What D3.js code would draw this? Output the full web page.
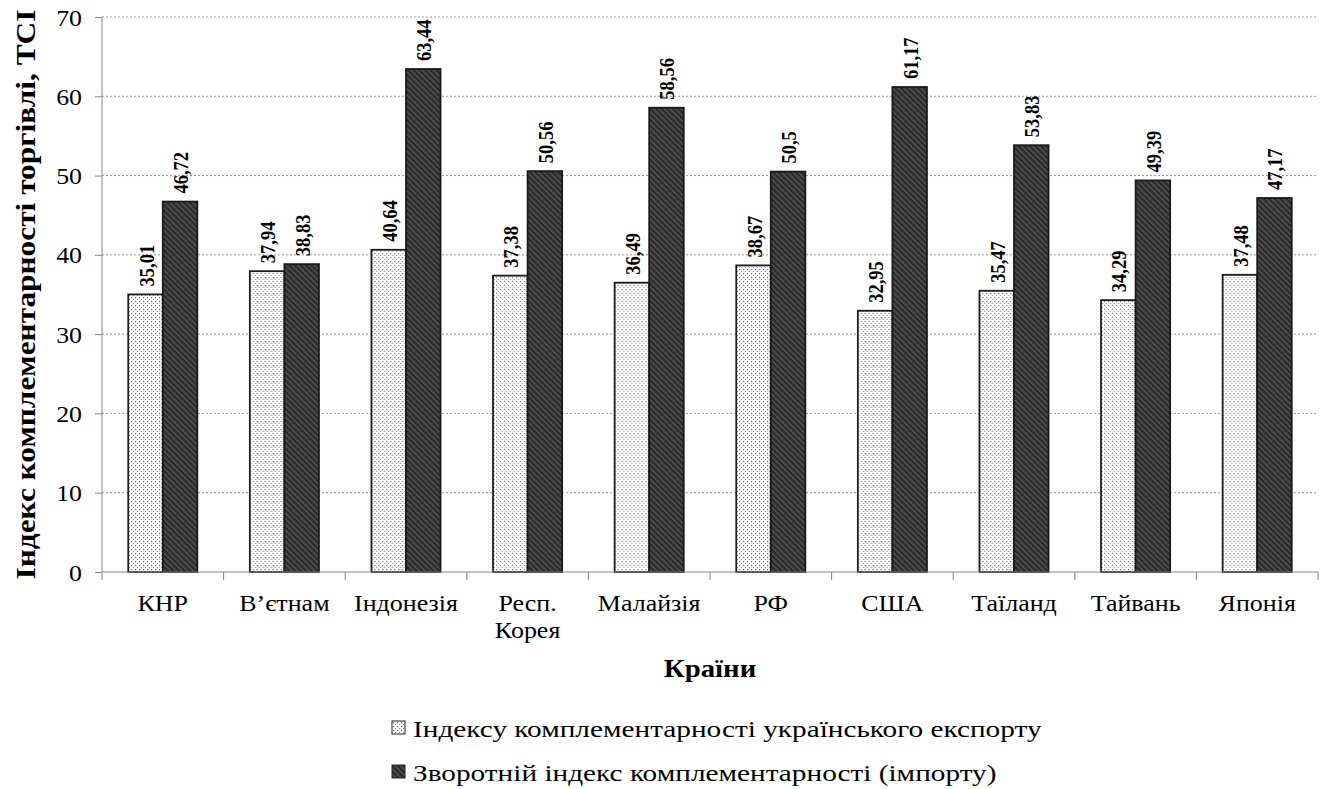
<!DOCTYPE html>
<html>
<head>
<meta charset="utf-8">
<script src="https://cdn.jsdelivr.net/npm/d3@7"></script>
<style>
  body { margin: 0; background: #fff; }
  .grid line { stroke: #999; stroke-dasharray: 2,2; }
  .axis path, .axis line { stroke: #888; }
</style>
</head>
<body>
<svg width="1322" height="789"></svg>
<script>
const countries = ["КНР", "В’єтнам", "Індонезія", "Респ.|Корея", "Малайзія", "РФ", "США", "Таїланд", "Тайвань", "Японія"];
const exportIdx = [35.01, 37.94, 40.64, 37.38, 36.49, 38.67, 32.95, 35.47, 34.29, 37.48];
const importIdx = [46.72, 38.83, 63.44, 50.56, 58.56, 50.5, 61.17, 53.83, 49.39, 47.17];
const yTicks = [0, 10, 20, 30, 40, 50, 60, 70];
const seriesNames = ["Індексу комплементарності українського експорту", "Зворотній індекс комплементарності (імпорту)"];

const FONT = "'Tinos', 'FreeSerif', serif";
const svg = d3.select("svg");
const margin = {left: 102, right: 4, top: 17, bottom: 217};
const W = 1322, H = 789;

const defs = svg.append("defs");
const dots = defs.append("pattern").attr("id", "dots")
  .attr("patternUnits", "userSpaceOnUse").attr("width", 4).attr("height", 4);
dots.append("rect").attr("width", 4).attr("height", 4).attr("fill", "#fff");
dots.append("rect").attr("x", 1).attr("y", 1).attr("width", 1.2).attr("height", 1.2).attr("fill", "#666");
dots.append("rect").attr("x", 3).attr("y", 3).attr("width", 1.2).attr("height", 1.2).attr("fill", "#888");

const stripes = defs.append("pattern").attr("id", "stripes")
  .attr("patternUnits", "userSpaceOnUse").attr("width", 4).attr("height", 4)
  .attr("patternTransform", "rotate(-45)");
stripes.append("rect").attr("width", 4).attr("height", 4).attr("fill", "#2a2a2a");
stripes.append("rect").attr("width", 1.5).attr("height", 4).attr("fill", "#555");

const x = d3.scaleBand().domain(countries).range([margin.left, W - margin.right]);
const y = d3.scaleLinear().domain([0, 70]).range([H - margin.bottom, margin.top]);
const x1 = d3.scaleBand().domain([0, 1]).range([0, x.bandwidth()]).paddingOuter(0.76);

// grid
svg.append("g").attr("class", "grid")
  .selectAll("line").data(yTicks.slice(1)).join("line")
  .attr("x1", margin.left).attr("x2", W - margin.right)
  .attr("y1", d => y(d)).attr("y2", d => y(d));

// y axis
const yAxis = svg.append("g").attr("class", "axis")
  .attr("transform", `translate(${margin.left},0)`)
  .call(d3.axisLeft(y).tickValues(yTicks).tickSize(7).tickSizeOuter(0))
  .attr("font-family", FONT).attr("font-size", 23.5);
yAxis.selectAll("text")
  .attr("x", null).attr("dy", null)
  .attr("transform", "translate(-20,8) scale(1.1,1)")
  .attr("font-family", FONT).attr("font-size", 23.5).attr("fill", "#000");
yAxis.select(".domain").attr("d", `M0,${y(0)}V${y(70)}`);

const series = [exportIdx, importIdx];
const fills = ["url(#dots)", "url(#stripes)"];

const groups = svg.append("g").selectAll("g").data(countries).join("g")
  .attr("transform", d => `translate(${x(d)},0)`);

series.forEach((vals, s) => {
  groups.append("rect")
    .attr("x", x1(s)).attr("width", x1.bandwidth())
    .attr("y", (d, i) => y(vals[i]))
    .attr("height", (d, i) => y(0) - y(vals[i]))
    .attr("fill", fills[s]).attr("stroke", "#1a1a1a").attr("stroke-width", 1.8);
  groups.append("text")
    .attr("transform", (d, i) => `translate(${x1(s) + x1.bandwidth() / 2 + 8},${y(vals[i]) - 8}) rotate(-90) scale(1,1.12)`)
    .attr("font-family", FONT).attr("font-size", 18.5).attr("font-weight", "bold")
    .text((d, i) => String(vals[i]).replace(".", ","));
});

// x axis
const xAxis = svg.append("g").attr("class", "axis")
  .attr("transform", `translate(0,${y(0)})`);
xAxis.append("line").attr("x1", margin.left).attr("x2", W - margin.right);
xAxis.selectAll(".tk").data(countries.concat(["end"])).join("line").attr("class", "tk")
  .attr("x1", (d, i) => margin.left + i * x.bandwidth())
  .attr("x2", (d, i) => margin.left + i * x.bandwidth())
  .attr("y1", 0).attr("y2", 8);
xAxis.selectAll(".lbl").data(countries).join("text").attr("class", "lbl")
  .attr("text-anchor", "middle").attr("font-family", FONT).attr("font-size", 23)
  .attr("transform", d => `translate(${x(d) + x.bandwidth() / 2},0) scale(1.13,1)`)
  .each(function(d) {
    d3.select(this).selectAll("tspan").data(d.split("|")).join("tspan")
      .attr("x", 0)
      .attr("y", (t, j) => 39 + j * 27)
      .text(t => t);
  });

// axis titles
svg.append("text")
  .attr("transform", `translate(${(margin.left + W - margin.right) / 2},677) scale(1.13,1)`)
  .attr("text-anchor", "middle").attr("font-family", FONT).attr("font-size", 25.5).attr("font-weight", "bold").text("Країни");
svg.append("text").attr("transform", `translate(35,${(y(0) + y(70)) / 2}) rotate(-90) scale(1.12,1)`)
  .attr("text-anchor", "middle").attr("font-family", FONT).attr("font-size", 28).attr("font-weight", "bold")
  .text("Індекс комплементарності торгівлі, TCI");

// legend
const leg = svg.append("g").selectAll("g").data(seriesNames).join("g")
  .attr("transform", (d, i) => `translate(392,${737 + i * 44})`);
leg.append("rect").attr("x", 0).attr("y", -16).attr("width", 13).attr("height", 13)
  .attr("fill", (d, i) => fills[i]).attr("stroke", "#222");
leg.append("text").attr("transform", "translate(21,0) scale(1.22,1)")
  .attr("font-family", FONT).attr("font-size", 24).text(d => d);
</script>
</body>
</html>
